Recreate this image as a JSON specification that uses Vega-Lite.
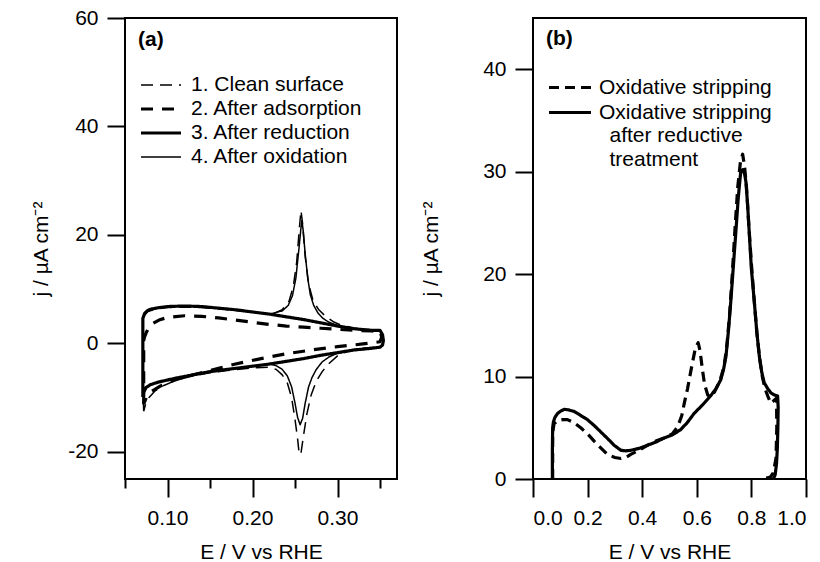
{
  "$schema": "https://vega.github.io/schema/vega-lite/v6.json",
  "padding": {"left": 29, "top": 6, "right": 10, "bottom": 0},
  "background": "white",
  "config": {
    "font": "Liberation Sans",
    "view": {"stroke": "black", "strokeWidth": 2},
    "axis": {"domain": false, "grid": false, "tickColor": "black", "tickWidth": 2, "tickSize": 18, "labelFontSize": 21, "labelColor": "black", "labelPadding": 9, "labelFont": "Liberation Sans", "titleFont": "Liberation Sans", "titleFontSize": 21, "titleFontWeight": "normal", "titleColor": "black"},
    "axisX": {"labelPadding": 10},
    "legend": {"labelFont": "Liberation Sans"}
  },
  "datasets": {
    "anames": [
      {"c": 1, "name": "1. Clean surface"},
      {"c": 2, "name": "2. After adsorption"},
      {"c": 3, "name": "3. After reduction"},
      {"c": 4, "name": "4. After oxidation"}
    ],
    "bnames": [
      {"c": 1, "name": "Oxidative stripping"},
      {"c": 2, "name": "Oxidative stripping|\u200b\u2002after reductive|\u200b\u2002treatment"}
    ],
    "a": [
      {"c":3,"i":1,"E":0.071,"j":-9.9},{"c":3,"i":2,"E":0.071,"j":4.6},{"c":3,"i":3,"E":0.073,"j":5.5},{"c":3,"i":4,"E":0.076,"j":6.0},{"c":3,"i":5,"E":0.08,"j":6.3},{"c":3,"i":6,"E":0.09,"j":6.6},{"c":3,"i":7,"E":0.10,"j":6.8},{"c":3,"i":8,"E":0.12,"j":6.9},{"c":3,"i":9,"E":0.14,"j":6.8},{"c":3,"i":10,"E":0.16,"j":6.5},{"c":3,"i":11,"E":0.18,"j":6.2},{"c":3,"i":12,"E":0.20,"j":5.8},{"c":3,"i":13,"E":0.22,"j":5.4},{"c":3,"i":14,"E":0.24,"j":4.9},{"c":3,"i":15,"E":0.26,"j":4.4},{"c":3,"i":16,"E":0.28,"j":3.8},{"c":3,"i":17,"E":0.30,"j":3.2},{"c":3,"i":18,"E":0.32,"j":2.7},{"c":3,"i":19,"E":0.34,"j":2.4},{"c":3,"i":20,"E":0.35,"j":2.4},{"c":3,"i":21,"E":0.353,"j":1.6},{"c":3,"i":22,"E":0.354,"j":0.5},{"c":3,"i":23,"E":0.353,"j":-0.3},{"c":3,"i":24,"E":0.35,"j":-0.7},{"c":3,"i":25,"E":0.34,"j":-0.9},{"c":3,"i":26,"E":0.32,"j":-1.2},{"c":3,"i":27,"E":0.30,"j":-1.7},{"c":3,"i":28,"E":0.28,"j":-2.2},{"c":3,"i":29,"E":0.26,"j":-2.8},{"c":3,"i":30,"E":0.24,"j":-3.3},{"c":3,"i":31,"E":0.22,"j":-3.8},{"c":3,"i":32,"E":0.20,"j":-4.2},{"c":3,"i":33,"E":0.17,"j":-4.8},{"c":3,"i":34,"E":0.15,"j":-5.2},{"c":3,"i":35,"E":0.13,"j":-5.8},{"c":3,"i":36,"E":0.11,"j":-6.4},{"c":3,"i":37,"E":0.09,"j":-7.1},{"c":3,"i":38,"E":0.08,"j":-7.6},{"c":3,"i":39,"E":0.075,"j":-8.1},{"c":3,"i":40,"E":0.072,"j":-9.0},{"c":3,"i":41,"E":0.071,"j":-9.9},
      {"c":2,"i":1,"E":0.072,"j":-11.2},{"c":2,"i":2,"E":0.072,"j":0.5},{"c":2,"i":3,"E":0.073,"j":1.2},{"c":2,"i":4,"E":0.075,"j":2.0},{"c":2,"i":5,"E":0.078,"j":2.9},{"c":2,"i":6,"E":0.083,"j":3.7},{"c":2,"i":7,"E":0.09,"j":4.3},{"c":2,"i":8,"E":0.10,"j":4.8},{"c":2,"i":9,"E":0.12,"j":5.1},{"c":2,"i":10,"E":0.14,"j":5.0},{"c":2,"i":11,"E":0.16,"j":4.7},{"c":2,"i":12,"E":0.18,"j":4.3},{"c":2,"i":13,"E":0.20,"j":3.9},{"c":2,"i":14,"E":0.22,"j":3.5},{"c":2,"i":15,"E":0.24,"j":3.2},{"c":2,"i":16,"E":0.26,"j":3.0},{"c":2,"i":17,"E":0.28,"j":2.8},{"c":2,"i":18,"E":0.30,"j":2.6},{"c":2,"i":19,"E":0.32,"j":2.4},{"c":2,"i":20,"E":0.34,"j":2.3},{"c":2,"i":21,"E":0.35,"j":2.2},{"c":2,"i":22,"E":0.352,"j":1.2},{"c":2,"i":23,"E":0.35,"j":0.3},{"c":2,"i":24,"E":0.33,"j":-0.1},{"c":2,"i":25,"E":0.30,"j":-0.6},{"c":2,"i":26,"E":0.27,"j":-1.2},{"c":2,"i":27,"E":0.24,"j":-1.9},{"c":2,"i":28,"E":0.21,"j":-2.8},{"c":2,"i":29,"E":0.18,"j":-3.8},{"c":2,"i":30,"E":0.16,"j":-4.6},{"c":2,"i":31,"E":0.14,"j":-5.4},{"c":2,"i":32,"E":0.12,"j":-6.2},{"c":2,"i":33,"E":0.10,"j":-7.2},{"c":2,"i":34,"E":0.09,"j":-8.0},{"c":2,"i":35,"E":0.08,"j":-9.0},{"c":2,"i":36,"E":0.075,"j":-10.0},{"c":2,"i":37,"E":0.072,"j":-11.2},
      {"c":1,"i":1,"E":0.072,"j":-12.5},{"c":1,"i":2,"E":0.071,"j":-8.0},{"c":1,"i":3,"E":0.071,"j":4.0},{"c":1,"i":4,"E":0.073,"j":5.2},{"c":1,"i":5,"E":0.077,"j":5.9},{"c":1,"i":6,"E":0.085,"j":6.3},{"c":1,"i":7,"E":0.10,"j":6.6},{"c":1,"i":8,"E":0.12,"j":6.7},{"c":1,"i":9,"E":0.14,"j":6.6},{"c":1,"i":10,"E":0.16,"j":6.4},{"c":1,"i":11,"E":0.18,"j":6.1},{"c":1,"i":12,"E":0.20,"j":5.8},{"c":1,"i":13,"E":0.215,"j":5.5},{"c":1,"i":14,"E":0.225,"j":5.5},{"c":1,"i":15,"E":0.235,"j":6.2},{"c":1,"i":16,"E":0.243,"j":7.8},{"c":1,"i":17,"E":0.248,"j":10.5},{"c":1,"i":18,"E":0.252,"j":15.0},{"c":1,"i":19,"E":0.255,"j":21.0},{"c":1,"i":20,"E":0.257,"j":24.5},{"c":1,"i":21,"E":0.259,"j":22.0},{"c":1,"i":22,"E":0.262,"j":16.0},{"c":1,"i":23,"E":0.266,"j":11.0},{"c":1,"i":24,"E":0.271,"j":8.0},{"c":1,"i":25,"E":0.278,"j":6.2},{"c":1,"i":26,"E":0.286,"j":5.0},{"c":1,"i":27,"E":0.295,"j":4.0},{"c":1,"i":28,"E":0.305,"j":3.3},{"c":1,"i":29,"E":0.32,"j":2.8},{"c":1,"i":30,"E":0.34,"j":2.5},{"c":1,"i":31,"E":0.35,"j":2.4},{"c":1,"i":32,"E":0.353,"j":1.5},{"c":1,"i":33,"E":0.354,"j":0.4},{"c":1,"i":34,"E":0.352,"j":-0.4},{"c":1,"i":35,"E":0.345,"j":-0.7},{"c":1,"i":36,"E":0.33,"j":-0.9},{"c":1,"i":37,"E":0.32,"j":-1.1},{"c":1,"i":38,"E":0.31,"j":-1.6},{"c":1,"i":39,"E":0.30,"j":-2.3},{"c":1,"i":40,"E":0.29,"j":-3.7},{"c":1,"i":41,"E":0.282,"j":-5.2},{"c":1,"i":42,"E":0.275,"j":-7.0},{"c":1,"i":43,"E":0.269,"j":-9.5},{"c":1,"i":44,"E":0.264,"j":-13.0},{"c":1,"i":45,"E":0.26,"j":-17.0},{"c":1,"i":46,"E":0.257,"j":-20.3},{"c":1,"i":47,"E":0.255,"j":-20.5},{"c":1,"i":48,"E":0.253,"j":-17.5},{"c":1,"i":49,"E":0.25,"j":-14.0},{"c":1,"i":50,"E":0.246,"j":-10.0},{"c":1,"i":51,"E":0.241,"j":-7.3},{"c":1,"i":52,"E":0.235,"j":-5.8},{"c":1,"i":53,"E":0.228,"j":-4.8},{"c":1,"i":54,"E":0.22,"j":-4.4},{"c":1,"i":55,"E":0.20,"j":-4.5},{"c":1,"i":56,"E":0.17,"j":-5.0},{"c":1,"i":57,"E":0.15,"j":-5.4},{"c":1,"i":58,"E":0.13,"j":-6.0},{"c":1,"i":59,"E":0.11,"j":-6.8},{"c":1,"i":60,"E":0.095,"j":-7.8},{"c":1,"i":61,"E":0.085,"j":-8.8},{"c":1,"i":62,"E":0.078,"j":-10.0},{"c":1,"i":63,"E":0.074,"j":-11.3},{"c":1,"i":64,"E":0.072,"j":-12.5},
      {"c":4,"i":1,"E":0.071,"j":-9.9},{"c":4,"i":2,"E":0.071,"j":4.6},{"c":4,"i":3,"E":0.073,"j":5.5},{"c":4,"i":4,"E":0.076,"j":6.0},{"c":4,"i":5,"E":0.08,"j":6.3},{"c":4,"i":6,"E":0.09,"j":6.6},{"c":4,"i":7,"E":0.10,"j":6.8},{"c":4,"i":8,"E":0.12,"j":6.9},{"c":4,"i":9,"E":0.14,"j":6.8},{"c":4,"i":10,"E":0.16,"j":6.5},{"c":4,"i":11,"E":0.18,"j":6.2},{"c":4,"i":12,"E":0.20,"j":5.8},{"c":4,"i":13,"E":0.22,"j":5.4},{"c":4,"i":14,"E":0.235,"j":6.0},{"c":4,"i":15,"E":0.242,"j":7.0},{"c":4,"i":16,"E":0.247,"j":8.8},{"c":4,"i":17,"E":0.251,"j":12.0},{"c":4,"i":18,"E":0.255,"j":18.0},{"c":4,"i":19,"E":0.2568,"j":21.0},{"c":4,"i":20,"E":0.258,"j":22.6},{"c":4,"i":21,"E":0.2595,"j":21.0},{"c":4,"i":22,"E":0.262,"j":16.5},{"c":4,"i":23,"E":0.265,"j":12.0},{"c":4,"i":24,"E":0.268,"j":9.0},{"c":4,"i":25,"E":0.272,"j":7.0},{"c":4,"i":26,"E":0.277,"j":5.6},{"c":4,"i":27,"E":0.283,"j":4.6},{"c":4,"i":28,"E":0.29,"j":3.9},{"c":4,"i":29,"E":0.30,"j":3.3},{"c":4,"i":30,"E":0.32,"j":2.7},{"c":4,"i":31,"E":0.34,"j":2.4},{"c":4,"i":32,"E":0.35,"j":2.4},{"c":4,"i":33,"E":0.353,"j":1.6},{"c":4,"i":34,"E":0.354,"j":0.5},{"c":4,"i":35,"E":0.353,"j":-0.3},{"c":4,"i":36,"E":0.35,"j":-0.7},{"c":4,"i":37,"E":0.34,"j":-0.9},{"c":4,"i":38,"E":0.32,"j":-1.2},{"c":4,"i":39,"E":0.30,"j":-1.8},{"c":4,"i":40,"E":0.29,"j":-2.5},{"c":4,"i":41,"E":0.282,"j":-3.4},{"c":4,"i":42,"E":0.275,"j":-4.8},{"c":4,"i":43,"E":0.27,"j":-6.3},{"c":4,"i":44,"E":0.266,"j":-8.0},{"c":4,"i":45,"E":0.262,"j":-11.0},{"c":4,"i":46,"E":0.259,"j":-13.8},{"c":4,"i":47,"E":0.256,"j":-15.0},{"c":4,"i":48,"E":0.253,"j":-13.6},{"c":4,"i":49,"E":0.25,"j":-11.0},{"c":4,"i":50,"E":0.246,"j":-8.0},{"c":4,"i":51,"E":0.241,"j":-6.0},{"c":4,"i":52,"E":0.235,"j":-4.8},{"c":4,"i":53,"E":0.228,"j":-4.1},{"c":4,"i":54,"E":0.22,"j":-3.8},{"c":4,"i":55,"E":0.20,"j":-4.2},{"c":4,"i":56,"E":0.17,"j":-4.8},{"c":4,"i":57,"E":0.15,"j":-5.2},{"c":4,"i":58,"E":0.13,"j":-5.8},{"c":4,"i":59,"E":0.11,"j":-6.4},{"c":4,"i":60,"E":0.09,"j":-7.1},{"c":4,"i":61,"E":0.08,"j":-7.6},{"c":4,"i":62,"E":0.075,"j":-8.1},{"c":4,"i":63,"E":0.072,"j":-9.0},{"c":4,"i":64,"E":0.071,"j":-9.9}
    ],
    "b": [
      {"c":1,"i":1,"E":0.072,"j":0},{"c":1,"i":2,"E":0.072,"j":4.5},{"c":1,"i":3,"E":0.077,"j":5.4},{"c":1,"i":4,"E":0.09,"j":5.7},{"c":1,"i":5,"E":0.11,"j":5.8},{"c":1,"i":6,"E":0.126,"j":5.8},{"c":1,"i":7,"E":0.15,"j":5.5},{"c":1,"i":8,"E":0.175,"j":5.0},{"c":1,"i":9,"E":0.2,"j":4.4},{"c":1,"i":10,"E":0.224,"j":3.7},{"c":1,"i":11,"E":0.25,"j":3.0},{"c":1,"i":12,"E":0.273,"j":2.4},{"c":1,"i":13,"E":0.3,"j":2.1},{"c":1,"i":14,"E":0.322,"j":2.0},{"c":1,"i":15,"E":0.34,"j":2.1},{"c":1,"i":16,"E":0.358,"j":2.4},{"c":1,"i":17,"E":0.38,"j":2.7},{"c":1,"i":18,"E":0.395,"j":2.9},{"c":1,"i":19,"E":0.42,"j":3.3},{"c":1,"i":20,"E":0.45,"j":3.7},{"c":1,"i":21,"E":0.48,"j":4.0},{"c":1,"i":22,"E":0.51,"j":4.4},{"c":1,"i":23,"E":0.53,"j":5.1},{"c":1,"i":24,"E":0.545,"j":6.2},{"c":1,"i":25,"E":0.555,"j":7.5},{"c":1,"i":26,"E":0.566,"j":8.8},{"c":1,"i":27,"E":0.58,"j":10.8},{"c":1,"i":28,"E":0.595,"j":12.8},{"c":1,"i":29,"E":0.605,"j":13.3},{"c":1,"i":30,"E":0.612,"j":12.5},{"c":1,"i":31,"E":0.62,"j":10.8},{"c":1,"i":32,"E":0.628,"j":9.3},{"c":1,"i":33,"E":0.64,"j":8.2},{"c":1,"i":34,"E":0.65,"j":8.0},{"c":1,"i":35,"E":0.665,"j":8.5},{"c":1,"i":36,"E":0.685,"j":9.6},{"c":1,"i":37,"E":0.70,"j":11.0},{"c":1,"i":38,"E":0.71,"j":13.0},{"c":1,"i":39,"E":0.72,"j":16.0},{"c":1,"i":40,"E":0.73,"j":20.0},{"c":1,"i":41,"E":0.74,"j":24.5},{"c":1,"i":42,"E":0.75,"j":28.5},{"c":1,"i":43,"E":0.76,"j":31.0},{"c":1,"i":44,"E":0.768,"j":31.7},{"c":1,"i":45,"E":0.775,"j":30.5},{"c":1,"i":46,"E":0.782,"j":28.5},{"c":1,"i":47,"E":0.79,"j":25.0},{"c":1,"i":48,"E":0.80,"j":21.0},{"c":1,"i":49,"E":0.81,"j":17.5},{"c":1,"i":50,"E":0.82,"j":14.3},{"c":1,"i":51,"E":0.83,"j":11.8},{"c":1,"i":52,"E":0.84,"j":10.0},{"c":1,"i":53,"E":0.85,"j":8.8},{"c":1,"i":54,"E":0.86,"j":8.1},{"c":1,"i":55,"E":0.871,"j":7.4},{"c":1,"i":56,"E":0.88,"j":7.6},{"c":1,"i":57,"E":0.892,"j":7.9},{"c":1,"i":58,"E":0.893,"j":5.0},{"c":1,"i":59,"E":0.89,"j":2.0},{"c":1,"i":60,"E":0.88,"j":0.6},{"c":1,"i":61,"E":0.87,"j":0.2},{"c":1,"i":62,"E":0.855,"j":0.1},{"c":1,"i":63,"E":0.835,"j":0.1},
      {"c":2,"i":1,"E":0.071,"j":0},{"c":2,"i":2,"E":0.071,"j":3.0},{"c":2,"i":3,"E":0.072,"j":5.0},{"c":2,"i":4,"E":0.075,"j":5.6},{"c":2,"i":5,"E":0.08,"j":6.0},{"c":2,"i":6,"E":0.09,"j":6.4},{"c":2,"i":7,"E":0.10,"j":6.6},{"c":2,"i":8,"E":0.114,"j":6.8},{"c":2,"i":9,"E":0.13,"j":6.75},{"c":2,"i":10,"E":0.15,"j":6.6},{"c":2,"i":11,"E":0.175,"j":6.2},{"c":2,"i":12,"E":0.199,"j":5.8},{"c":2,"i":13,"E":0.225,"j":5.2},{"c":2,"i":14,"E":0.248,"j":4.6},{"c":2,"i":15,"E":0.275,"j":3.9},{"c":2,"i":16,"E":0.297,"j":3.3},{"c":2,"i":17,"E":0.322,"j":2.8},{"c":2,"i":18,"E":0.34,"j":2.75},{"c":2,"i":19,"E":0.358,"j":2.8},{"c":2,"i":20,"E":0.39,"j":3.0},{"c":2,"i":21,"E":0.42,"j":3.3},{"c":2,"i":22,"E":0.45,"j":3.6},{"c":2,"i":23,"E":0.48,"j":4.0},{"c":2,"i":24,"E":0.51,"j":4.3},{"c":2,"i":25,"E":0.54,"j":4.8},{"c":2,"i":26,"E":0.565,"j":5.5},{"c":2,"i":27,"E":0.59,"j":6.4},{"c":2,"i":28,"E":0.62,"j":7.2},{"c":2,"i":29,"E":0.65,"j":8.1},{"c":2,"i":30,"E":0.67,"j":8.8},{"c":2,"i":31,"E":0.688,"j":9.7},{"c":2,"i":32,"E":0.698,"j":10.7},{"c":2,"i":33,"E":0.707,"j":12.0},{"c":2,"i":34,"E":0.716,"j":14.5},{"c":2,"i":35,"E":0.725,"j":17.5},{"c":2,"i":36,"E":0.734,"j":20.8},{"c":2,"i":37,"E":0.743,"j":24.1},{"c":2,"i":38,"E":0.752,"j":27.5},{"c":2,"i":39,"E":0.761,"j":30.0},{"c":2,"i":40,"E":0.768,"j":30.2},{"c":2,"i":41,"E":0.775,"j":29.8},{"c":2,"i":42,"E":0.78,"j":29.0},{"c":2,"i":43,"E":0.786,"j":26.8},{"c":2,"i":44,"E":0.792,"j":24.1},{"c":2,"i":45,"E":0.80,"j":20.5},{"c":2,"i":46,"E":0.81,"j":17.5},{"c":2,"i":47,"E":0.82,"j":14.3},{"c":2,"i":48,"E":0.829,"j":12.0},{"c":2,"i":49,"E":0.838,"j":10.4},{"c":2,"i":50,"E":0.847,"j":9.4},{"c":2,"i":51,"E":0.86,"j":8.8},{"c":2,"i":52,"E":0.872,"j":8.4},{"c":2,"i":53,"E":0.885,"j":8.2},{"c":2,"i":54,"E":0.896,"j":8.1},{"c":2,"i":55,"E":0.898,"j":7.0},{"c":2,"i":56,"E":0.897,"j":5.0},{"c":2,"i":57,"E":0.895,"j":3.0},{"c":2,"i":58,"E":0.892,"j":1.5},{"c":2,"i":59,"E":0.887,"j":0.4},{"c":2,"i":60,"E":0.88,"j":0}
    ]
  },
  "hconcat": [
    {
      "width": 272,
      "height": 461,
      "title": {"text": "(a)", "anchor": "start", "frame": "group", "orient": "top", "offset": 0, "dx": 13, "dy": 60, "fontSize": 21, "fontWeight": "bold", "color": "black", "baseline": "alphabetic", "font": "Liberation Sans"},
      "data": {"name": "a"},
      "transform": [{"lookup": "c", "from": {"data": {"name": "anames"}, "key": "c", "fields": ["name"]}}],
      "mark": {"type": "line", "color": "black", "clip": true, "strokeJoin": "round"},
      "encoding": {
        "x": {"field": "E", "type": "quantitative", "scale": {"domain": [0.05, 0.37], "nice": false, "zero": false},
          "axis": {"values": [0.05, 0.1, 0.15, 0.2, 0.25, 0.3, 0.35], "title": "E / V vs RHE", "titlePadding": 13,
            "labelExpr": "abs(datum.value*10 - round(datum.value*10)) < 0.001 ? format(datum.value, '.2f') : ''",
            "tickSize": {"condition": {"test": "abs(datum.value*10 - round(datum.value*10)) < 0.001", "value": 18}, "value": 9}}},
        "y": {"field": "j", "type": "quantitative", "scale": {"domain": [-25, 60], "nice": false, "zero": false},
          "axis": {"values": [-20, 0, 20, 40, 60], "labelExpr": "toString(datum.value)", "title": "j / µA cm⁻²", "titlePadding": 16}},
        "order": {"field": "i", "type": "quantitative"},
        "strokeDash": {"field": "name", "type": "nominal",
          "scale": {"domain": ["1. Clean surface", "2. After adsorption", "3. After reduction", "4. After oxidation"], "range": [[12, 7], [12, 9], [1, 0], [1, 0]]},
          "legend": {"orient": "none", "legendX": 14, "legendY": 56, "title": null, "symbolType": "stroke", "symbolSize": 1600, "symbolStrokeColor": "black", "clipHeight": 22, "rowPadding": 2, "labelFontSize": 21, "labelColor": "black", "labelOffset": 8, "labelLimit": 500, "padding": 0}},
        "strokeWidth": {"field": "name", "type": "nominal",
          "scale": {"type": "ordinal", "domain": ["1. Clean surface", "2. After adsorption", "3. After reduction", "4. After oxidation"], "range": [1.5, 3.2, 3.2, 1.5]},
          "legend": {"orient": "none", "legendX": 14, "legendY": 56, "title": null, "symbolType": "stroke", "symbolSize": 1600, "symbolStrokeColor": "black", "clipHeight": 22, "rowPadding": 2, "labelFontSize": 21, "labelColor": "black", "labelOffset": 8, "labelLimit": 500, "padding": 0}}
      }
    },
    {
      "width": 273,
      "height": 461,
      "title": {"text": "(b)", "anchor": "start", "frame": "group", "orient": "top", "offset": 0, "dx": 13, "dy": 48, "fontSize": 21, "fontWeight": "bold", "color": "black", "baseline": "alphabetic", "font": "Liberation Sans"},
      "data": {"name": "b"},
      "transform": [{"lookup": "c", "from": {"data": {"name": "bnames"}, "key": "c", "fields": ["name"]}}],
      "mark": {"type": "line", "color": "black", "clip": true, "strokeJoin": "round", "strokeWidth": 3.2},
      "encoding": {
        "x": {"field": "E", "type": "quantitative", "scale": {"domain": [0, 1], "nice": false},
          "axis": {"values": [0, 0.2, 0.4, 0.6, 0.8, 1.0], "format": ".1f", "title": "E / V vs RHE", "titlePadding": 13}},
        "y": {"field": "j", "type": "quantitative", "scale": {"domain": [0, 45], "nice": false},
          "axis": {"values": [0, 10, 20, 30, 40], "title": "j / µA cm⁻²", "titlePadding": 41}},
        "order": {"field": "i", "type": "quantitative"},
        "strokeDash": {"field": "name", "type": "nominal",
          "scale": {"domain": ["Oxidative stripping", "Oxidative stripping|\u200b\u2002after reductive|\u200b\u2002treatment"], "range": [[10, 6], [1, 0]]},
          "legend": {"orient": "none", "legendX": 14, "legendY": 58.5, "title": null, "symbolType": "stroke", "symbolSize": 1764, "symbolStrokeColor": "black", "symbolStrokeWidth": 3.2, "clipHeight": 22, "rowPadding": 3, "labelFontSize": 21, "labelColor": "black", "labelOffset": 6, "labelLimit": 500, "padding": 0, "labelBaseline": "top", "labelExpr": "split(datum.label, '|')",
            "encode": {"labels": {"update": {"dy": {"value": -11}, "lineHeight": {"value": 23.5}}}}}}
      }
    }
  ],
  "spacing": 136,
  "bounds": "flush",
  "resolve": {"scale": {"strokeDash": "independent", "strokeWidth": "independent"}}
}
